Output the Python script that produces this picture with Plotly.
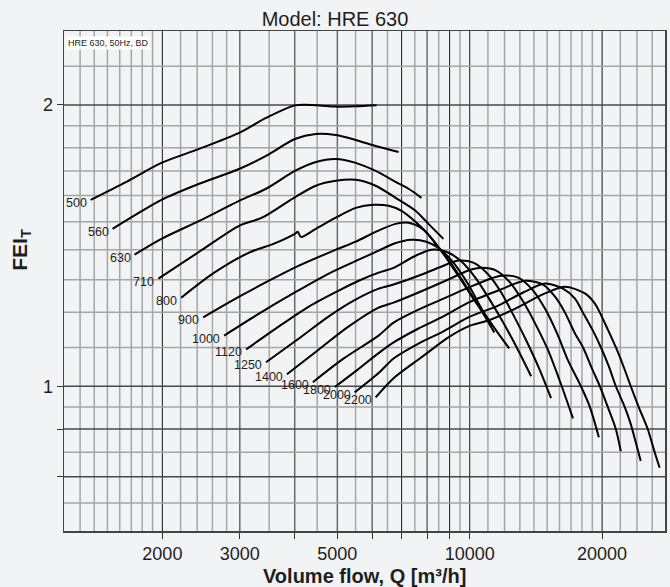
import math
import plotly.graph_objects as go

# ---------------- data ----------------
SIZES = ["500", "560", "630", "710", "800", "900", "1000", "1120", "1250", "1400", "1600", "1800", "2000", "2200"]

Q_500 = [1374, 1657, 1990, 2426, 2989, 3442, 4003, 4467, 4959, 5505, 6142]
FEI_500 = [1.583, 1.655, 1.734, 1.795, 1.867, 1.937, 1.998, 1.999, 1.992, 1.994, 1.999]

Q_560 = [1541, 1756, 1990, 2426, 2989, 3442, 4003, 4467, 4959, 5505, 6110, 6889]
FEI_560 = [1.474, 1.530, 1.583, 1.647, 1.708, 1.764, 1.839, 1.862, 1.857, 1.835, 1.808, 1.781]

Q_630 = [1729, 1990, 2426, 2989, 3442, 4003, 4467, 4959, 5505, 6110, 6782, 7258, 7768]
FEI_630 = [1.383, 1.438, 1.503, 1.579, 1.627, 1.700, 1.738, 1.751, 1.734, 1.700, 1.655, 1.627, 1.591]

Q_710 = [1959, 2426, 2989, 3370, 3983, 4467, 4959, 5505, 6110, 6782, 7528, 8057, 8713]
FEI_710 = [1.304, 1.393, 1.485, 1.515, 1.591, 1.639, 1.659, 1.663, 1.639, 1.591, 1.541, 1.492, 1.438]

Q_800 = [2208, 2624, 3149, 3588, 4003, 4067, 4131, 4467, 4959, 5505, 6047, 6539, 6998, 7528, 8057, 8713, 9422, 10190, 11252]
FEI_800 = [1.244, 1.323, 1.390, 1.421, 1.456, 1.463, 1.445, 1.474, 1.515, 1.552, 1.564, 1.560, 1.541, 1.500, 1.453, 1.386, 1.313, 1.241, 1.162]

Q_900 = [2477, 2989, 3496, 4088, 4907, 5505, 6110, 6782, 7258, 7849, 8401, 9037, 9722, 10459, 11370]
FEI_900 = [1.185, 1.247, 1.297, 1.346, 1.397, 1.428, 1.463, 1.492, 1.496, 1.471, 1.417, 1.356, 1.288, 1.220, 1.142]

Q_1000 = [2764, 3318, 4003, 4781, 5591, 6206, 6712, 7373, 7973, 8532, 9180, 9927, 10736, 11489, 12295]
FEI_1000 = [1.133, 1.196, 1.260, 1.320, 1.366, 1.397, 1.421, 1.435, 1.428, 1.404, 1.356, 1.285, 1.202, 1.147, 1.098]

Q_1120 = [3100, 3683, 4307, 5037, 5591, 6206, 6712, 7450, 8184, 8850, 9521, 10297, 11135, 11916, 12887, 13791]
FEI_1120 = [1.095, 1.159, 1.217, 1.266, 1.297, 1.323, 1.339, 1.376, 1.400, 1.393, 1.363, 1.307, 1.235, 1.170, 1.093, 1.025]

Q_1250 = [3442, 4088, 4781, 5447, 6206, 6712, 7647, 8488, 9422, 10190, 11019, 11792, 12555, 13437, 14379, 15308]
FEI_1250 = [1.061, 1.125, 1.188, 1.235, 1.272, 1.285, 1.313, 1.339, 1.363, 1.356, 1.317, 1.260, 1.193, 1.120, 1.045, 0.971]

Q_1400 = [3840, 4538, 5307, 6206, 6712, 7647, 8943, 9927, 10624, 11489, 12359, 13228, 14156, 15070, 16128, 17170]
FEI_1400 = [1.030, 1.095, 1.159, 1.214, 1.229, 1.260, 1.301, 1.330, 1.339, 1.330, 1.291, 1.232, 1.162, 1.093, 1.005, 0.924]

Q_1600 = [4398, 5170, 6206, 6712, 7647, 8713, 9927, 11019, 11792, 12887, 13936, 14914, 15877, 16728, 17902, 18763, 19664]
FEI_1600 = [1.010, 1.071, 1.133, 1.170, 1.208, 1.241, 1.275, 1.301, 1.313, 1.307, 1.266, 1.205, 1.133, 1.066, 1.000, 0.950, 0.882]

Q_1800 = [4933, 5533, 6206, 6712, 7647, 8713, 9927, 11609, 13367, 14682, 15631, 16468, 17351, 18090, 18960, 19767, 20610, 21489, 22057]
FEI_1800 = [0.998, 1.040, 1.085, 1.114, 1.153, 1.188, 1.229, 1.266, 1.297, 1.285, 1.247, 1.199, 1.139, 1.101, 1.045, 1.000, 0.950, 0.900, 0.852]

Q_2000 = [5476, 6206, 6712, 7647, 8713, 9927, 11609, 13228, 14837, 16297, 17351, 18090, 19059, 19871, 20718, 21489, 22522, 23238, 23853, 24483]
FEI_2000 = [0.985, 1.033, 1.071, 1.111, 1.145, 1.185, 1.220, 1.260, 1.288, 1.272, 1.241, 1.199, 1.147, 1.101, 1.050, 1.000, 0.950, 0.911, 0.871, 0.832]

Q_2200 = [6110, 6712, 7768, 8943, 9927, 11019, 12424, 14837, 16468, 18280, 19259, 19767, 20610, 21489, 22405, 23238, 24228, 25393, 26338, 27034]
FEI_2200 = [0.973, 1.020, 1.074, 1.128, 1.159, 1.176, 1.205, 1.257, 1.278, 1.257, 1.226, 1.199, 1.150, 1.101, 1.048, 1.000, 0.950, 0.900, 0.850, 0.818]

CURVES_Q = [Q_500, Q_560, Q_630, Q_710, Q_800, Q_900, Q_1000, Q_1120, Q_1250, Q_1400, Q_1600, Q_1800, Q_2000, Q_2200]
CURVES_FEI = [FEI_500, FEI_560, FEI_630, FEI_710, FEI_800, FEI_900, FEI_1000, FEI_1120, FEI_1250, FEI_1400, FEI_1600, FEI_1800, FEI_2000, FEI_2200]

X_TICKS = [2000, 3000, 5000, 10000, 20000]
X_TICK_TEXT = ["2000", "3000", "5000", "10000", "20000"]
X_MINOR_TICKS = [4000, 6000, 7000, 8000, 9000]
Y_TICKS = [1.0, 2.0]
Y_TICK_TEXT = ["1", "2"]
Y_MINOR_TICKS = [0.8, 0.9]

X_GRID_MINOR = [1300, 1400, 1500, 1600, 1700, 1800, 1900, 2200, 2400, 2600, 2800, 3500, 4500,
                5500, 6500, 7500, 8500, 9500, 11000, 12000, 13000, 14000, 15000, 16000, 17000,
                18000, 19000, 22000, 24000, 26000]
X_GRID_MID = [3000, 4000, 5000, 6000, 8000]
X_GRID_MAJOR = [2000, 7000, 9000, 10000, 20000]
Y_GRID_MINOR = [0.75, 0.85, 0.95, 1.1, 1.2, 1.3, 1.4, 1.5, 1.6, 1.7, 1.8, 1.9, 2.2]
Y_GRID_MAJOR = [0.8, 0.9, 1.0, 2.0]

X_RANGE = [1195, 27800]
Y_RANGE = [0.7, 2.4]

# ---------------- styling ----------------
FONT = "Liberation Sans, Arial, Helvetica, sans-serif"
BG = "#F2F3F5"
INK = "#1e1e1e"
C_MINOR = "#A6A6A6"
C_MID = "#6A6A6A"
C_MAJOR = "#1a1a1a"

fig = go.Figure()

for qs, fs in zip(CURVES_Q, CURVES_FEI):
    fig.add_trace(go.Scatter(
        x=qs, y=fs, mode="lines",
        line=dict(color="black", width=2, shape="spline", smoothing=0.8),
        hoverinfo="skip", showlegend=False,
    ))

# grid lines (shape positions on log axes are given in data units)
shapes = []
for vals, col, w in ((X_GRID_MINOR, C_MINOR, 1.5), (X_GRID_MID, C_MID, 1.5), (X_GRID_MAJOR, C_MAJOR, 1)):
    for v in vals:
        shapes.append(dict(type="line", xref="x", yref="paper", x0=v, x1=v, y0=0, y1=1,
                           line=dict(color=col, width=w), layer="below"))
for vals, col, w in ((Y_GRID_MINOR, C_MINOR, 1.5), (Y_GRID_MAJOR, "#484848", 1.5)):
    for v in vals:
        shapes.append(dict(type="line", xref="paper", yref="y", x0=0, x1=1, y0=v, y1=v,
                           line=dict(color=col, width=w), layer="below"))

annotations = []
for name, qs, fs in zip(SIZES, CURVES_Q, CURVES_FEI):
    annotations.append(dict(
        x=math.log10(qs[0]), y=math.log10(fs[0]), xref="x", yref="y",
        text=name, showarrow=False, xanchor="right", yanchor="middle",
        xshift=-2, yshift=-3, font=dict(family=FONT, size=12.5, color=INK),
    ))

annotations.append(dict(
    x=0.0035, y=0.99, xref="paper", yref="paper", xanchor="left", yanchor="top",
    text="HRE 630, 50Hz, BD", showarrow=False, bgcolor="white", borderpad=1,
    font=dict(family=FONT, size=9, color=INK),
))
annotations.append(dict(
    x=0.5, y=-0.09, xref="paper", yref="paper", xanchor="center", yanchor="middle",
    text="<b>Volume flow, Q [m³/h]</b>", showarrow=False,
    font=dict(family=FONT, size=20, color=INK),
))
annotations.append(dict(
    x=-0.072, y=0.562, xref="paper", yref="paper", xanchor="center", yanchor="middle",
    text="<b>FEI<sub>T</sub></b>", showarrow=False, textangle=-90,
    font=dict(family=FONT, size=21, color=INK),
))

fig.update_layout(
    width=670, height=587,
    margin=dict(l=64, r=3, t=31, b=56),
    paper_bgcolor=BG, plot_bgcolor="rgba(0,0,0,0)",
    title=dict(text="Model: HRE 630", x=0.5, xref="container", y=1 - 19 / 587, yref="container",
               xanchor="center", yanchor="middle", font=dict(family=FONT, size=20, color=INK)),
    shapes=shapes, annotations=annotations,
    xaxis=dict(type="log", range=[math.log10(X_RANGE[0]), math.log10(X_RANGE[1])],
               showgrid=False, zeroline=False, tickmode="array", tickvals=X_TICKS, ticktext=X_TICK_TEXT,
               ticks="outside", ticklen=6, tickcolor="#333", tickwidth=1,
               minor=dict(tickmode="array", tickvals=X_MINOR_TICKS, ticks="outside", ticklen=6,
                          tickcolor="#333", tickwidth=1, showgrid=False),
               showline=True, linecolor="#444", linewidth=1.5, mirror=True,
               tickfont=dict(family=FONT, size=18, color=INK)),
    yaxis=dict(type="log", range=[math.log10(Y_RANGE[0]), math.log10(Y_RANGE[1])],
               showgrid=False, zeroline=False, tickmode="array", tickvals=Y_TICKS, ticktext=Y_TICK_TEXT,
               ticks="outside", ticklen=6, tickcolor="#333", tickwidth=1,
               minor=dict(tickmode="array", tickvals=Y_MINOR_TICKS, ticks="outside", ticklen=6,
                          tickcolor="#333", tickwidth=1, showgrid=False),
               showline=True, linecolor="#444", linewidth=1.5, mirror=True,
               tickfont=dict(family=FONT, size=18, color=INK)),
    hovermode=False,
)

fig.write_html(
    "out.html",
    config={"displayModeBar": False, "staticPlot": True},
    post_script="document.body.style.margin='0';document.body.style.background='" + BG + "';",
)
